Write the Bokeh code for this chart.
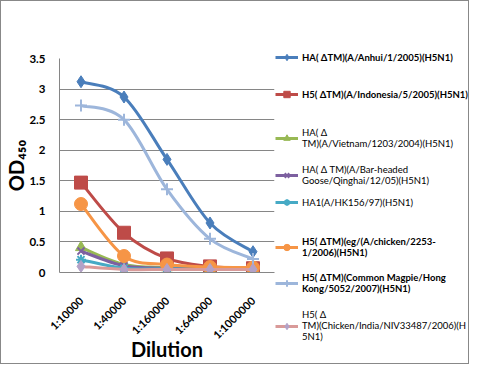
import numpy as np
from bokeh.plotting import figure
from bokeh.layouts import row
from bokeh.models import Range1d, FixedTicker, Legend, LegendItem
from bokeh.embed import file_html
from bokeh.resources import INLINE

categories = ["1:10000", "1:40000", "1:160000", "1:640000", "1:1000000"]
y_ticks = [0, 0.5, 1, 1.5, 2, 2.5, 3, 3.5]
y_tick_labels = ["0", "0.5", "1", "1.5", "2", "2.5", "3", "3.5"]

anhui = [3.12, 2.87, 1.85, 0.81, 0.34]
indonesia = [1.47, 0.65, 0.23, 0.10, 0.07]
vietnam = [0.41, 0.13, 0.08, 0.07, 0.06]
qinghai = [0.35, 0.11, 0.07, 0.06, 0.05]
hk156 = [0.21, 0.07, 0.06, 0.05, 0.05]
chicken2253 = [1.12, 0.27, 0.13, 0.09, 0.08]
magpie = [2.73, 2.50, 1.36, 0.55, 0.22]
india = [0.10, 0.05, 0.05, 0.05, 0.05]

labels = [
    "HA( \u0394TM)(A/Anhui/1/2005)(H5N1)",
    "H5( \u0394TM)(A/Indonesia/5/2005)(H5N1)",
    "HA( \u0394\nTM)(A/Vietnam/1203/2004)(H5N1)",
    "HA( \u0394 TM)(A/Bar-headed\nGoose/Qinghai/12/05)(H5N1)",
    "HA1(A/HK156/97)(H5N1)",
    "H5( \u0394TM)(eg/(A/chicken/2253-\n1/2006)(H5N1)",
    "H5( \u0394TM)(Common Magpie/Hong\nKong/5052/2007)(H5N1)",
    "H5( \u0394\nTM)(Chicken/India/NIV33487/2006)(H\n5N1)",
]
series = [anhui, indonesia, vietnam, qinghai, hk156, chicken2253, magpie, india]
colors = ["#4A7EBB", "#BE4B48", "#98B954", "#7D60A0", "#46AAC5", "#F69546", "#9DB6DB", "#D99A99"]
marker_colors = ["#4A7EBB", "#BE4B48", "#98B954", "#7D60A0", "#46AAC5", "#F69546", "#9DB6DB", "#B3A2C7"]
markers = ["diamond", "square", "triangle", "x", "asterisk", "circle", "cross", "diamond"]
msizes = [12, 13, 11, 10, 10, 13, 12, 12]
bold = [True, True, False, False, False, True, True, False]
# vertical centre of each legend entry, px from top of the chart area
legend_centres = [56, 93, 135, 171.5, 201, 243.5, 279.5, 321.5]

FONT = "Lato"
H = 362
MAIN_W = 274
LEG_W = 467 - MAIN_W

p = figure(width=MAIN_W, height=H, output_backend="svg", toolbar_location=None,
           x_range=Range1d(-0.5, 4.5), y_range=Range1d(0, 3.5),
           min_border_left=58, min_border_right=1, min_border_top=57, min_border_bottom=91)
p.frame_align = False
p.outline_line_color = None
p.xgrid.grid_line_color = None
p.ygrid.grid_line_color = "#868686"
p.ygrid.ticker = FixedTicker(ticks=y_ticks)

p.yaxis.ticker = FixedTicker(ticks=y_ticks)
p.yaxis.major_label_overrides = {t: l for t, l in zip(y_ticks, y_tick_labels)}
p.xaxis.ticker = FixedTicker(ticks=list(range(len(categories))))
p.xaxis.major_label_overrides = {i: c for i, c in enumerate(categories)}
p.xaxis.major_label_orientation = np.pi / 4
for ax in (p.xaxis, p.yaxis):
    ax.axis_line_color = "#868686"
    ax.major_tick_line_color = None
    ax.minor_tick_line_color = None
    ax.major_label_text_font = FONT
    ax.major_label_text_font_style = "bold"
    ax.major_label_text_font_size = "11.5px"
    ax.major_label_text_color = "#000000"
    ax.axis_label_text_font = FONT
    ax.axis_label_text_font_style = "bold"
    ax.axis_label_text_font_size = "20px"
    ax.axis_label_text_color = "#000000"
p.xaxis.major_label_text_font_size = "11px"
p.yaxis.major_label_standoff = 8
p.xaxis.major_label_standoff = 20
p.xaxis.axis_label = "Dilution"
p.yaxis.axis_label = "OD\u2084\u2085\u2080"
p.xaxis.axis_label_standoff = -12
p.yaxis.axis_label_standoff = -2

xs = np.arange(len(categories), dtype=float)


def bezier_segments(x, y, k=1 / 6):
    x = np.asarray(x, float)
    y = np.asarray(y, float)
    n = len(x)
    xe = np.concatenate([[x[0]], x, [x[-1]]])
    ye = np.concatenate([[y[0]], y, [y[-1]]])
    out = dict(x0=[], y0=[], x1=[], y1=[], cx0=[], cy0=[], cx1=[], cy1=[])
    for i in range(n - 1):
        a = i + 1
        out["x0"].append(xe[a]); out["y0"].append(ye[a])
        out["x1"].append(xe[a + 1]); out["y1"].append(ye[a + 1])
        out["cx0"].append(xe[a] + (xe[a + 1] - xe[a - 1]) * k)
        out["cy0"].append(ye[a] + (ye[a + 1] - ye[a - 1]) * k)
        out["cx1"].append(xe[a + 1] - (xe[a + 2] - xe[a]) * k)
        out["cy1"].append(ye[a + 1] - (ye[a + 2] - ye[a]) * k)
    return out


for s, c, mc, m, ms in zip(series, colors, marker_colors, markers, msizes):
    p.bezier(line_color=c, line_width=3, **bezier_segments(xs, s))
    lw = 2 if m in ("x", "asterisk", "cross") else 1
    p.scatter(xs, s, marker=m, size=ms, fill_color=mc, line_color=mc, line_width=lw)

# legend panel (its ranges are set away from the data, so only the legend shows)
q = figure(width=LEG_W, height=H, output_backend="svg", toolbar_location=None,
           x_range=Range1d(100, 101), y_range=Range1d(100, 101),
           min_border=0, min_border_left=0, min_border_right=0,
           min_border_top=0, min_border_bottom=0)
q.frame_align = False
q.axis.visible = False
q.grid.visible = False
q.outline_line_color = None

LINE_H = 13
for s, c, mc, m, ms, lab, b, cy in zip(series, colors, marker_colors, markers, msizes,
                                        labels, bold, legend_centres):
    lr = q.line(xs, s, line_color=c, line_width=3)
    lw = 2 if m in ("x", "asterisk", "cross") else 1
    sr = q.scatter(xs, s, marker=m, size=ms * 0.8, fill_color=mc, line_color=mc, line_width=lw)
    nl = lab.count("\n") + 1
    h = max(16, LINE_H * nl)
    lg = Legend(items=[LegendItem(label=lab, renderers=[lr, sr])],
                location=(0, H - (cy + h / 2)),
                glyph_width=23, glyph_height=16, label_height=16,
                label_standoff=4, padding=0, margin=0, spacing=0,
                background_fill_alpha=0, border_line_alpha=0,
                label_text_font=FONT, label_text_font_size="9.5px",
                label_text_font_style="bold" if b else "normal",
                label_text_color="#000000", label_text_line_height=1.35)
    q.add_layout(lg, "center")

layout = row(p, q)
layout.styles = {"border": "1px solid #888888"}
open("out.html", "w").write(file_html(layout, INLINE))
